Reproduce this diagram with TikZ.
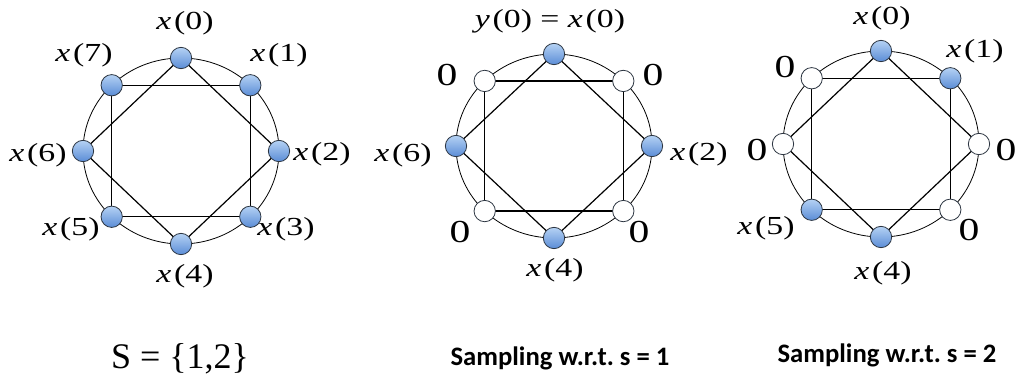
\documentclass[tikz,border=0pt]{standalone}
\usepackage{fontspec}
\setmainfont{Liberation Serif}
\newfontfamily\lblfont[FakeStretch=1.3]{Liberation Serif}
\newfontfamily\capfont{Carlito}
\usetikzlibrary{backgrounds}
\definecolor{vtxtop}{HTML}{B5D2F4}
\definecolor{vtxbot}{HTML}{5A8CD6}
\definecolor{vtxline}{HTML}{2B3440}

\newcommand{\sig}[2]{\textit{#1}\kern2pt(#2)}

\begin{document}
\begin{tikzpicture}[
    x=0.75pt, y=-0.75pt,
    vtx/.style={circle, draw=vtxline, line width=0.6pt, top color=vtxtop,
                bottom color=vtxbot, minimum size=16pt, inner sep=0pt},
    zero/.style={circle, draw=vtxline, line width=0.6pt, fill=white,
                 minimum size=16pt, inner sep=0pt},
    ring/.style={line width=0.6pt},
    edge/.style={line width=0.9pt},
    lbl/.style={font=\lblfont\fontsize{19.5}{20}\selectfont, inner sep=0pt},
    zlbl/.style={font=\lblfont\fontsize{24}{24}\selectfont, inner sep=0pt},
    caption/.style={anchor=base, inner sep=0pt}
]
\useasboundingbox (0,0) rectangle (1020,379);

% Full signal
\begin{scope}[shift={(181,151)}]
  \foreach \i in {0,...,7}
    \node[vtx] (a\i) at ({98*cos(90-45*\i)}, {-93*sin(90-45*\i)}) {};
\end{scope}
\foreach \i/\x/\y in {0/185/23, 1/279/55, 2/322/154, 3/286/229,
                      4/185/276, 5/71/229, 6/38/155, 7/84/55}
  \node[lbl] (la\i) at (\x,\y) {\sig{x}{\i}};

% Sampling w.r.t. s = 1
\begin{scope}[shift={(554,146)}]
  \foreach \i/\k in {0/vtx, 1/zero, 2/vtx, 3/zero, 4/vtx, 5/zero, 6/vtx, 7/zero}
    \node[\k] (b\i) at ({98*cos(90-45*\i)}, {-92*sin(90-45*\i)}) {};
\end{scope}
\node[lbl] (lb0) at (550,21) {\sig{y}{0} = \sig{x}{0}};
\foreach \i/\x/\y in {2/699/154, 4/555/270, 6/403/155}
  \node[lbl] (lb\i) at (\x,\y) {\sig{x}{\i}};
\foreach \i/\x/\y in {1/653/75, 3/639/232, 5/460/232, 7/447/75}
  \node[zlbl] (lb\i) at (\x,\y) {0};

% Sampling w.r.t. s = 2
\begin{scope}[shift={(881,144)}]
  \foreach \i/\k in {0/vtx, 1/vtx, 2/zero, 3/zero, 4/vtx, 5/vtx, 6/zero, 7/zero}
    \node[\k] (c\i) at ({98*cos(90-45*\i)}, {-93*sin(90-45*\i)}) {};
\end{scope}
\foreach \i/\x/\y in {0/882/18, 1/975/51, 4/883/273, 5/766/228}
  \node[lbl] (lc\i) at (\x,\y) {\sig{x}{\i}};
\foreach \i/\x/\y in {2/1006/150, 3/969/230, 6/757/150, 7/785/67}
  \node[zlbl] (lc\i) at (\x,\y) {0};

% Rings and edges behind the vertices
\begin{scope}[on background layer]
  \draw[ring] (181,151) ellipse [x radius=98, y radius=93];
  \draw[ring] (554,146) ellipse [x radius=98, y radius=92];
  \draw[ring] (881,144) ellipse [x radius=98, y radius=93];
  \foreach \g in {a,b,c}
    \foreach \i/\j in {0/2, 2/4, 4/6, 6/0, 1/3, 3/5, 5/7, 7/1}
      \draw[edge] (\g\i.center) -- (\g\j.center);
\end{scope}

% Captions
\node[caption, font=\fontsize{27}{27}\selectfont] (setS) at (180,368) {S = \{1,2\}};
\node[caption, font=\capfont\bfseries\frenchspacing\fontsize{20}{20}\selectfont] (samp1)
  at (560,365) {Sampling w.r.t. s = 1};
\node[caption, font=\capfont\bfseries\frenchspacing\fontsize{20}{20}\selectfont] (samp2)
  at (887,362) {Sampling w.r.t. s = 2};

\end{tikzpicture}
\end{document}
